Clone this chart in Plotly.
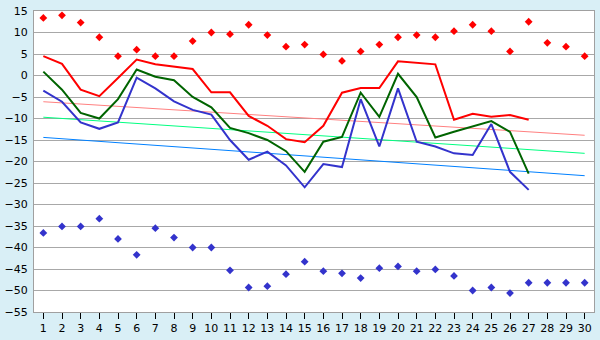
import plotly.graph_objects as go

days = list(range(1, 31))
red_max = [13.4, 14.0, 12.3, 8.9, 4.5, 6.0, 4.5, 4.5, 8.0, 10.0, 9.6, 11.8, 9.4, 6.7, 7.2,
           4.9, 3.4, 5.6, 7.2, 8.9, 9.4, 8.9, 10.3, 11.8, 10.3, 5.6, 12.5, 7.6, 6.7, 4.5]
blue_min = [-36.6, -35.1, -35.1, -33.3, -38.0, -41.7, -35.5, -37.7, -40.0, -40.0, -45.3, -49.3,
            -49.0, -46.2, -43.3, -45.5, -46.0, -47.1, -44.8, -44.4, -45.5, -45.1, -46.6, -50.0,
            -49.3, -50.6, -48.2, -48.2, -48.2, -48.2]
line_days = list(range(1, 28))
red_line = [4.5, 2.7, -3.3, -4.8, -0.6, 3.7, 2.6, 2.0, 1.5, -3.9, -3.9, -9.4, -11.7, -14.8,
            -15.5, -11.7, -4.0, -2.9, -2.9, 3.3, 3.0, 2.6, -10.3, -8.9, -9.6, -9.2, -10.3]
green_line = [0.9, -3.3, -8.7, -10.0, -5.5, 1.4, -0.3, -1.1, -5.0, -7.4, -12.2, -13.4, -15.0,
              -17.6, -22.4, -15.4, -14.3, -4.0, -9.6, 0.4, -5.0, -14.4, -13.1, -11.9, -10.6,
              -13.1, -22.8]
blue_line = [-3.5, -6.1, -10.9, -12.4, -10.9, -0.5, -3.0, -6.0, -8.0, -9.1, -15.0, -19.6, -17.7,
             -20.9, -26.0, -20.6, -21.3, -5.5, -16.5, -3.0, -15.4, -16.5, -18.1, -18.5, -11.3,
             -22.4, -26.6]
trend_x = [1, 30]
trend_red = [-6.1, -13.9]
trend_green = [-9.7, -18.1]
trend_blue = [-14.4, -23.3]

fig = go.Figure()
fig.add_trace(go.Scatter(x=trend_x, y=trend_red, mode="lines", line=dict(color="#FF8080", width=1)))
fig.add_trace(go.Scatter(x=trend_x, y=trend_green, mode="lines", line=dict(color="#00FF80", width=1)))
fig.add_trace(go.Scatter(x=trend_x, y=trend_blue, mode="lines", line=dict(color="#0080FF", width=1)))
fig.add_trace(go.Scatter(x=line_days, y=red_line, mode="lines", line=dict(color="#FF0000", width=2)))
fig.add_trace(go.Scatter(x=line_days, y=green_line, mode="lines", line=dict(color="#006400", width=2)))
fig.add_trace(go.Scatter(x=line_days, y=blue_line, mode="lines", line=dict(color="#3333CC", width=2)))
fig.add_trace(go.Scatter(x=days, y=red_max, mode="markers",
                         marker=dict(symbol="diamond", size=6, color="#FF0000")))
fig.add_trace(go.Scatter(x=days, y=blue_min, mode="markers",
                         marker=dict(symbol="diamond", size=6, color="#3333CC")))

fig.update_layout(
    width=600, height=340, showlegend=False,
    margin=dict(l=26, r=5, t=5, b=20),
    paper_bgcolor="#D9EFF6", plot_bgcolor="#FFFFFF",
    font=dict(family="DejaVu Sans", size=11, color="#000000"),
    xaxis=dict(range=[0.5, 30.5], tickvals=days, showgrid=False, zeroline=False,
               ticks="outside", ticklen=6, tickcolor="#000000",
               showline=True, linecolor="#A0A0A0", linewidth=1, mirror=True,
               ticklabeloverflow="allow"),
    yaxis=dict(range=[-55, 15], dtick=5, showgrid=True, gridcolor="#A8A8A8", gridwidth=1,
               zeroline=False, ticks="", showline=True, linecolor="#A0A0A0", linewidth=1,
               mirror=True, ticklabelstandoff=3, ticklabeloverflow="allow"),
)
fig.write_html("out.html")
